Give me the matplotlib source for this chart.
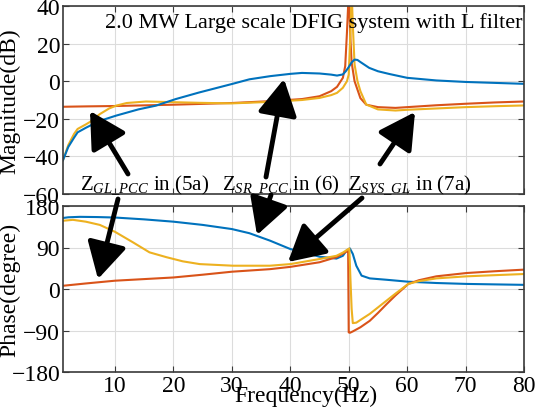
import matplotlib.pyplot as plt
from matplotlib.patches import FancyArrowPatch

# --- magnitude data (dB) ---
f_mag_blue = [1.1, 2, 3, 3.6, 5, 5.7, 8, 10.2, 14, 17, 20.4, 24.4, 30, 33, 36.6, 40, 42, 45, 47, 48, 49, 49.5,
              50, 50.5, 51, 51.5, 52, 53.5, 55, 57, 60, 65, 70, 75, 80]
mag_blue = [-42, -35, -30, -27.2, -24.8, -23.7, -20.5, -18.3, -15, -13, -9.5, -6, -1.5, 1, 2.7, 3.9, 4.4, 4.1, 3.5,
            3.0, 3.6, 5.3, 7.5, 10, 11.5, 11.3, 10.2, 7.1, 5.3, 3.8, 1.8, 0.4, -0.4, -0.9, -1.4]

f_mag_red = [1.1, 5, 10, 20, 30, 36.6, 42, 45, 47, 48, 49, 49.4, 49.7, 49.9, 50, 50.1, 50.3, 50.5, 51, 52, 53,
             55, 58, 60, 65, 70, 75, 80]
mag_red = [-13.6, -13.4, -13.2, -12.5, -11.6, -10.6, -9.5, -8, -5.3, -3, 1.8, 8, 26, 40, 48, 40, 22, 10, 0, -9,
           -12.5, -13.8, -14.2, -13.8, -12.8, -12, -11.3, -10.8]

f_mag_yel = [1.1, 2, 3, 3.6, 5, 5.7, 7.4, 9, 10.2, 12, 15.3, 18, 24.4, 30, 36.6, 42, 45, 47, 48, 49, 49.7,
             50, 50.3, 50.5, 50.7, 51, 51.5, 52, 53, 55, 58, 60, 65, 70, 75, 80]
mag_yel = [-42, -34, -28, -25.4, -23, -21.7, -17.5, -14.5, -13, -11.6, -10.8, -11, -11.5, -11.8, -11, -10, -8.9,
           -7.4, -6.2, -3.5, 0, 3.5, 26, 48, 30, 8.9, 0, -5.3, -12.4, -15, -15.6, -15.2, -14.5, -13.8, -13.3, -12.9]

# --- phase data (degree) ---
f_ph_blue = [1.1, 2, 4, 7, 10, 15, 20, 25, 30, 33, 36.5, 40, 42.2, 45, 47.9, 49, 49.6, 50.2, 50.7, 51.3, 52.2,
             53.6, 56.5, 60.2, 65, 70.2, 75, 80]
ph_blue = [154, 155.5, 156.5, 156, 155, 151, 146, 139, 130, 121, 105, 86.7, 80, 70, 66, 72, 83, 88, 76, 50.5, 29,
           23, 20, 15.8, 13, 11, 10, 9]

f_ph_red = [1.1, 5, 10, 15, 20, 25, 30, 36.5, 40, 45, 47.9, 49.6, 49.9, 50.0, 50.2, 50.7, 52, 53.6, 55, 56.5,
            58, 60.2, 62, 65, 70.2, 75, 80]
ph_red = [7, 12, 18, 21.5, 25, 31, 37.5, 43, 48, 58, 69, 81, 84, -94, -95, -92, -83, -69, -52, -32.6, -14, 11,
          19, 27.5, 34.7, 38.5, 42]

f_ph_yel = [1.1, 2.8, 5, 7.4, 10, 13.1, 15.9, 18.8, 21.6, 24.5, 30.2, 36.5, 40, 45, 47.9, 49, 50.1, 50.3, 50.5,
            50.7, 51.3, 52.5, 53.6, 55, 56.5, 58, 60.2, 62, 65, 70.2, 75, 80]
ph_yel = [148, 150, 146, 139, 124, 101, 79.5, 69, 60, 54, 50.5, 50.5, 54, 65, 72, 79, 88, 20, -43, -74, -73, -63,
          -54, -40, -25, -10, 11, 17, 23, 27.5, 30, 32.5]

mag_ticks = [40, 20, 0, -20, -40, -60]
ph_ticks = [180, 90, 0, -90, -180]
freq_ticks = [10, 20, 30, 40, 50, 60, 70, 80]

blue = '#0072BD'
red = '#D95319'
yellow = '#EDB120'

plt.rcParams['font.family'] = ['Liberation Serif', 'DejaVu Serif']
plt.rcParams['mathtext.fontset'] = 'custom'
plt.rcParams['mathtext.rm'] = 'Liberation Serif'
plt.rcParams['mathtext.it'] = 'Liberation Serif:italic'
plt.rcParams['font.size'] = 17

W, H = 535, 414
fig = plt.figure(figsize=(W / 100, H / 100), dpi=100)
ax1 = fig.add_axes([63 / W, 1 - 195 / H, 461 / W, 188 / H])
ax2 = fig.add_axes([63 / W, 1 - 373 / H, 461 / W, 166 / H])


def style(ax):
    ax.grid(True, color='#dcdcdc', lw=0.8)
    ax.set_axisbelow(True)
    for s in ax.spines.values():
        s.set_color('#3a3a3a')
        s.set_linewidth(1.2)
    ax.tick_params(direction='in', length=4, width=0.8, top=True, right=True,
                   colors='#3a3a3a', labelcolor='black', pad=2)
    ax.set_xlim(1.1, 80)
    ax.set_xticks(freq_ticks)


# Magnitude
ax1.plot(f_mag_red, mag_red, color=red, lw=1.5)
ax1.plot(f_mag_yel, mag_yel, color=yellow, lw=1.5)
ax1.plot(f_mag_blue, mag_blue, color=blue, lw=1.5)
style(ax1)
ax1.set_ylim(-60, 40)
ax1.set_yticks(mag_ticks)
ax1.set_xticklabels([])
ax1.set_ylabel('Magnitude(dB)')
ax1.yaxis.set_label_coords((20 - 63) / 461, 0.5)

# Phase
ax2.plot(f_ph_blue, ph_blue, color=blue, lw=1.5)
ax2.plot(f_ph_red, ph_red, color=red, lw=1.5)
ax2.plot(f_ph_yel, ph_yel, color=yellow, lw=1.5)
style(ax2)
ax2.set_ylim(-180, 180)
ax2.set_yticks(ph_ticks)
ax2.set_ylabel('Phase(degree)')
ax2.yaxis.set_label_coords((20 - 63) / 461, 0.5)
ax2.set_xlabel('Frequency(Hz)')
ax2.xaxis.set_label_coords((306 - 63) / 461, -(396 - 373) / 166)
ax2.xaxis.label.set_va('center')

fig.text(105 / W, 1 - 23 / H, '2.0 MW Large scale DFIG system with L filter',
         ha='left', va='center', fontsize=16)

# labels with arrows (pixel coords from top-left)
labels = [
    (r'$\mathrm{Z}_{GL\_PCC}$ in (5a)', 80),
    (r'$\mathrm{Z}_{SR\_PCC}$ in (6)', 222),
    (r'$\mathrm{Z}_{SYS\_GL}$ in (7a)', 348),
]
for txt, x in labels:
    fig.text(x / W, 1 - 185 / H, txt, ha='left', va='center', fontsize=15)

arrows = [
    ((128, 175), (90, 112)),
    ((118, 200), (98, 280)),
    ((266, 178), (284, 80)),
    ((271, 196), (257, 236)),
    ((380, 165), (415, 113)),
    ((362, 199), (288, 263)),
]
for (tx, ty), (hx, hy) in arrows:
    fig.add_artist(FancyArrowPatch(
        (tx / W, 1 - ty / H), (hx / W, 1 - hy / H), transform=fig.transFigure,
        arrowstyle='-|>,head_length=1.0,head_width=0.55', mutation_scale=22,
        lw=3.5, color='black', shrinkA=0, shrinkB=0))

fig.savefig('out.png', dpi=100)
